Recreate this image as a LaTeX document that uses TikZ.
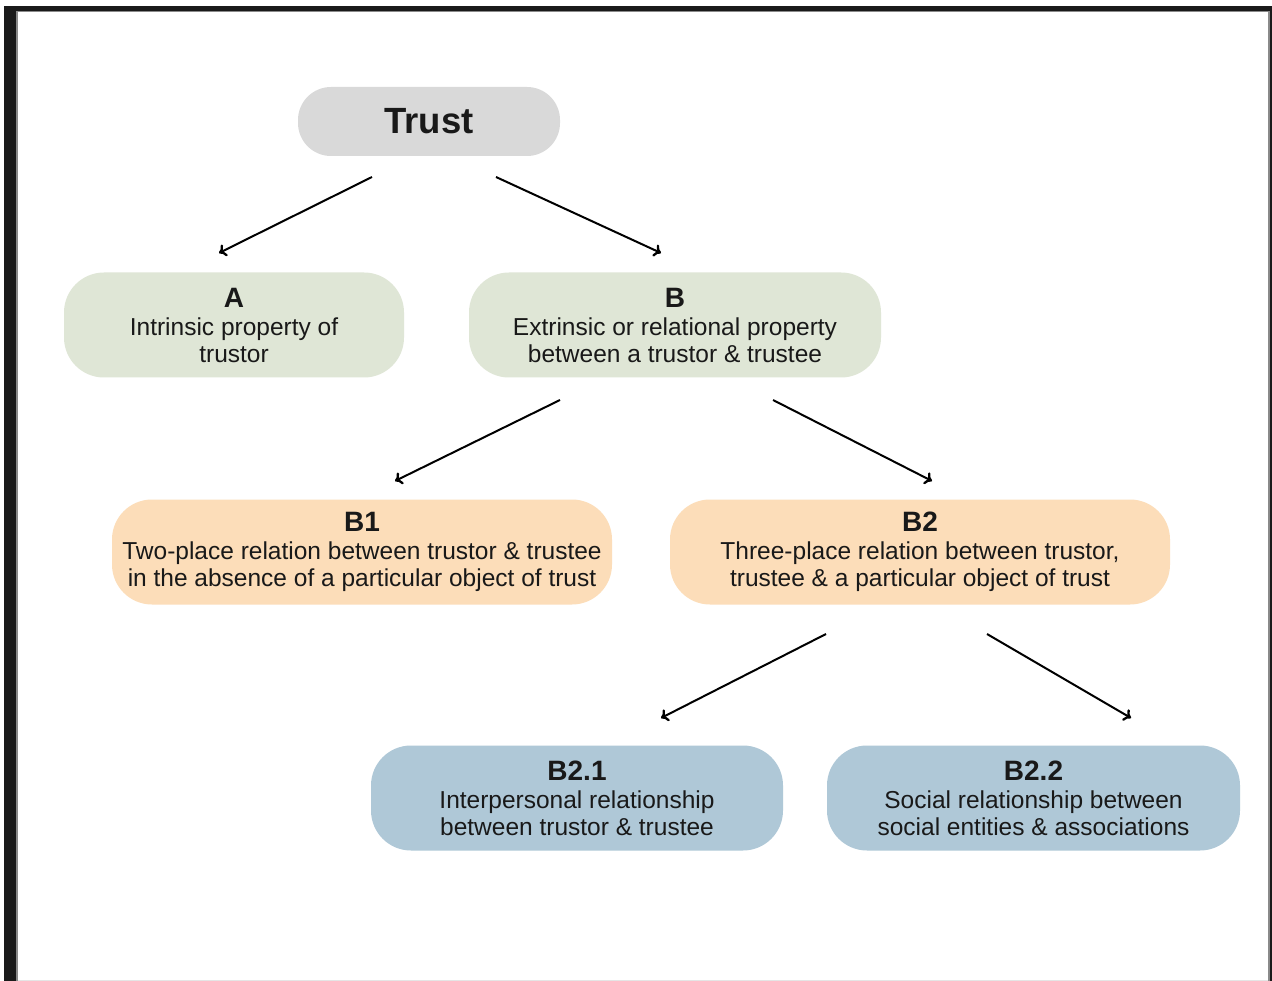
\documentclass[tikz,border=0pt]{standalone}
\usepackage{fontspec}
\setmainfont{Liberation Sans}
\usetikzlibrary{arrows.meta}
\definecolor{trustgray}{HTML}{D9D9D9}
\definecolor{boxgreen}{HTML}{DFE6D6}
\definecolor{boxpeach}{HTML}{FCDDB9}
\definecolor{boxblue}{HTML}{AFC8D7}
\definecolor{framedark}{HTML}{1A1A1A}
\definecolor{framegray}{HTML}{8A8A8A}
\tikzset{
  pill/.style={shape=rectangle, rounded corners=40pt, draw=none, align=center,
    inner sep=0pt, font=\fontsize{24.5}{27}\selectfont, text=black!90},
  arr/.style={line width=2pt, -{To[length=7pt,width=13pt,line width=2.3pt]}},
}
\newcommand{\ttl}[1]{{\fontsize{28}{30}\selectfont\bfseries #1}\\[1pt]}
\begin{document}
\begin{tikzpicture}[x=1pt,y=-1pt]
\useasboundingbox (0,0) rectangle (1272,981);
\fill[white] (0,0) rectangle (1272,981);
% frame
\fill[framedark] (4,6) rectangle (16,981);
\fill[framedark] (4,6) rectangle (1272,11);
\fill[framedark] (1269.5,6) rectangle (1272,981);
\fill[framegray] (16,11) rectangle (18,981);
\fill[framegray] (16,11) rectangle (1269.5,12.5);
\fill[framegray] (1268,11) rectangle (1269.5,981);
\fill[black!10] (18,979.5) rectangle (1268,981);
% nodes
\node[pill, fill=trustgray, rounded corners=33pt, minimum width=262pt, minimum height=69pt] (trust) at (429,121.5)
  {\fontsize{36.5}{40}\selectfont\bfseries Trust};
\node[pill, fill=boxgreen, minimum width=340pt, minimum height=105pt] (A) at (234,325)
  {\ttl{A}Intrinsic property of\\trustor};
\node[pill, fill=boxgreen, minimum width=412pt, minimum height=105pt] (B) at (675,325)
  {\ttl{B}Extrinsic or relational property\\between a trustor \& trustee};
\node[pill, fill=boxpeach, minimum width=500pt, minimum height=105pt] (B1) at (362,552)
  {\ttl{B1}Two-place relation between trustor \& trustee\\in the absence of a particular object of trust};
\node[pill, fill=boxpeach, minimum width=500pt, minimum height=105pt] (B2) at (920,552)
  {\ttl{B2}Three-place relation between trustor,\\trustee \& a particular object of trust};
\node[pill, fill=boxblue, minimum width=412pt, minimum height=105pt] (B21) at (577,798)
  {\ttl{B2.1}Interpersonal relationship\\between trustor \& trustee};
\node[pill, fill=boxblue, minimum width=413pt, minimum height=105pt] (B22) at (1033.5,798)
  {\ttl{B2.2}Social relationship between\\social entities \& associations};
% connector end points
\coordinate (tA) at (372,177);  \coordinate (hA) at (219,253);
\coordinate (tB) at (496,177);  \coordinate (hB) at (661,253);
\coordinate (tB1) at (560,400); \coordinate (hB1) at (395,481);
\coordinate (tB2) at (773,400); \coordinate (hB2) at (932,481);
\coordinate (tB21) at (826,634); \coordinate (hB21) at (661,718);
\coordinate (tB22) at (987,634); \coordinate (hB22) at (1131,718);
\draw[arr] (tA) -- (hA);
\draw[arr] (tB) -- (hB);
\draw[arr] (tB1) -- (hB1);
\draw[arr] (tB2) -- (hB2);
\draw[arr] (tB21) -- (hB21);
\draw[arr] (tB22) -- (hB22);
\end{tikzpicture}
\end{document}
